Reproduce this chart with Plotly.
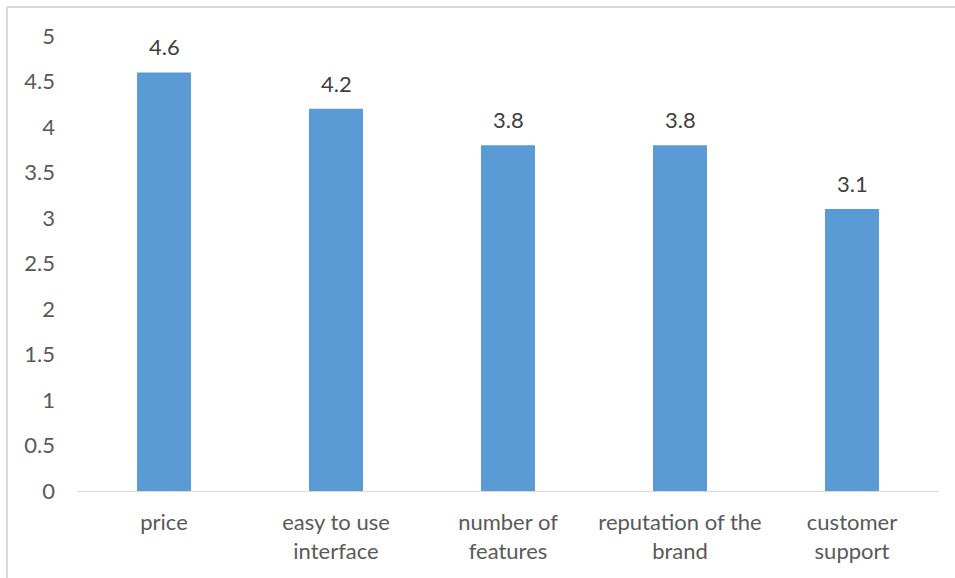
import plotly.graph_objects as go

categories = ["price", "easy to use<br>interface", "number of<br>features", "reputation of the<br>brand", "customer<br>support"]
values = [4.6, 4.2, 3.8, 3.8, 3.1]
value_labels = ["4.6", "4.2", "3.8", "3.8", "3.1"]
y_ticks = [0, 0.5, 1, 1.5, 2, 2.5, 3, 3.5, 4, 4.5, 5]
y_tick_labels = ["0", "0.5", "1", "1.5", "2", "2.5", "3", "3.5", "4", "4.5", "5"]

W, H = 955, 578
L, R, T, B = 78, 17, 36, 87
pw, ph = W - L - R, H - T - B
FONT = "Lato, Open Sans, sans-serif"

fig = go.Figure(go.Bar(
    x=categories, y=values,
    marker=dict(color="#5B9BD5", line=dict(width=0)), width=0.314,
))

for c, v, t in zip(categories, values, value_labels):
    fig.add_annotation(x=c, y=v, text=t, showarrow=False, yanchor="bottom",
                       yshift=10, font=dict(family=FONT, size=22, color="#404040"))

def px_x(x):
    return (x - L) / pw

def px_y(y):
    return (H - B - y) / ph

fig.update_layout(
    width=W, height=H, margin=dict(l=L, r=R, t=T, b=B),
    paper_bgcolor="white", plot_bgcolor="white",
    font=dict(family=FONT, size=22, color="#595959"),
    showlegend=False,
    xaxis=dict(showline=True, linecolor="#d9d9d9", linewidth=1, showgrid=False,
               ticks="", ticklabelstandoff=12, tickfont=dict(size=22, color="#595959")),
    yaxis=dict(range=[0, 5], tickvals=y_ticks, ticktext=y_tick_labels, showgrid=False,
               zeroline=False, showline=False, ticks="", ticklabelstandoff=22,
               tickfont=dict(size=22, color="#595959")),
    shapes=[
        dict(type="line", xref="paper", yref="paper", x0=px_x(7), x1=px_x(955),
             y0=px_y(7), y1=px_y(7), line=dict(color="#d9d9d9", width=2)),
        dict(type="line", xref="paper", yref="paper", x0=px_x(7), x1=px_x(7),
             y0=px_y(7), y1=px_y(578), line=dict(color="#d9d9d9", width=2)),
    ],
)

fig.write_html("out.html")
